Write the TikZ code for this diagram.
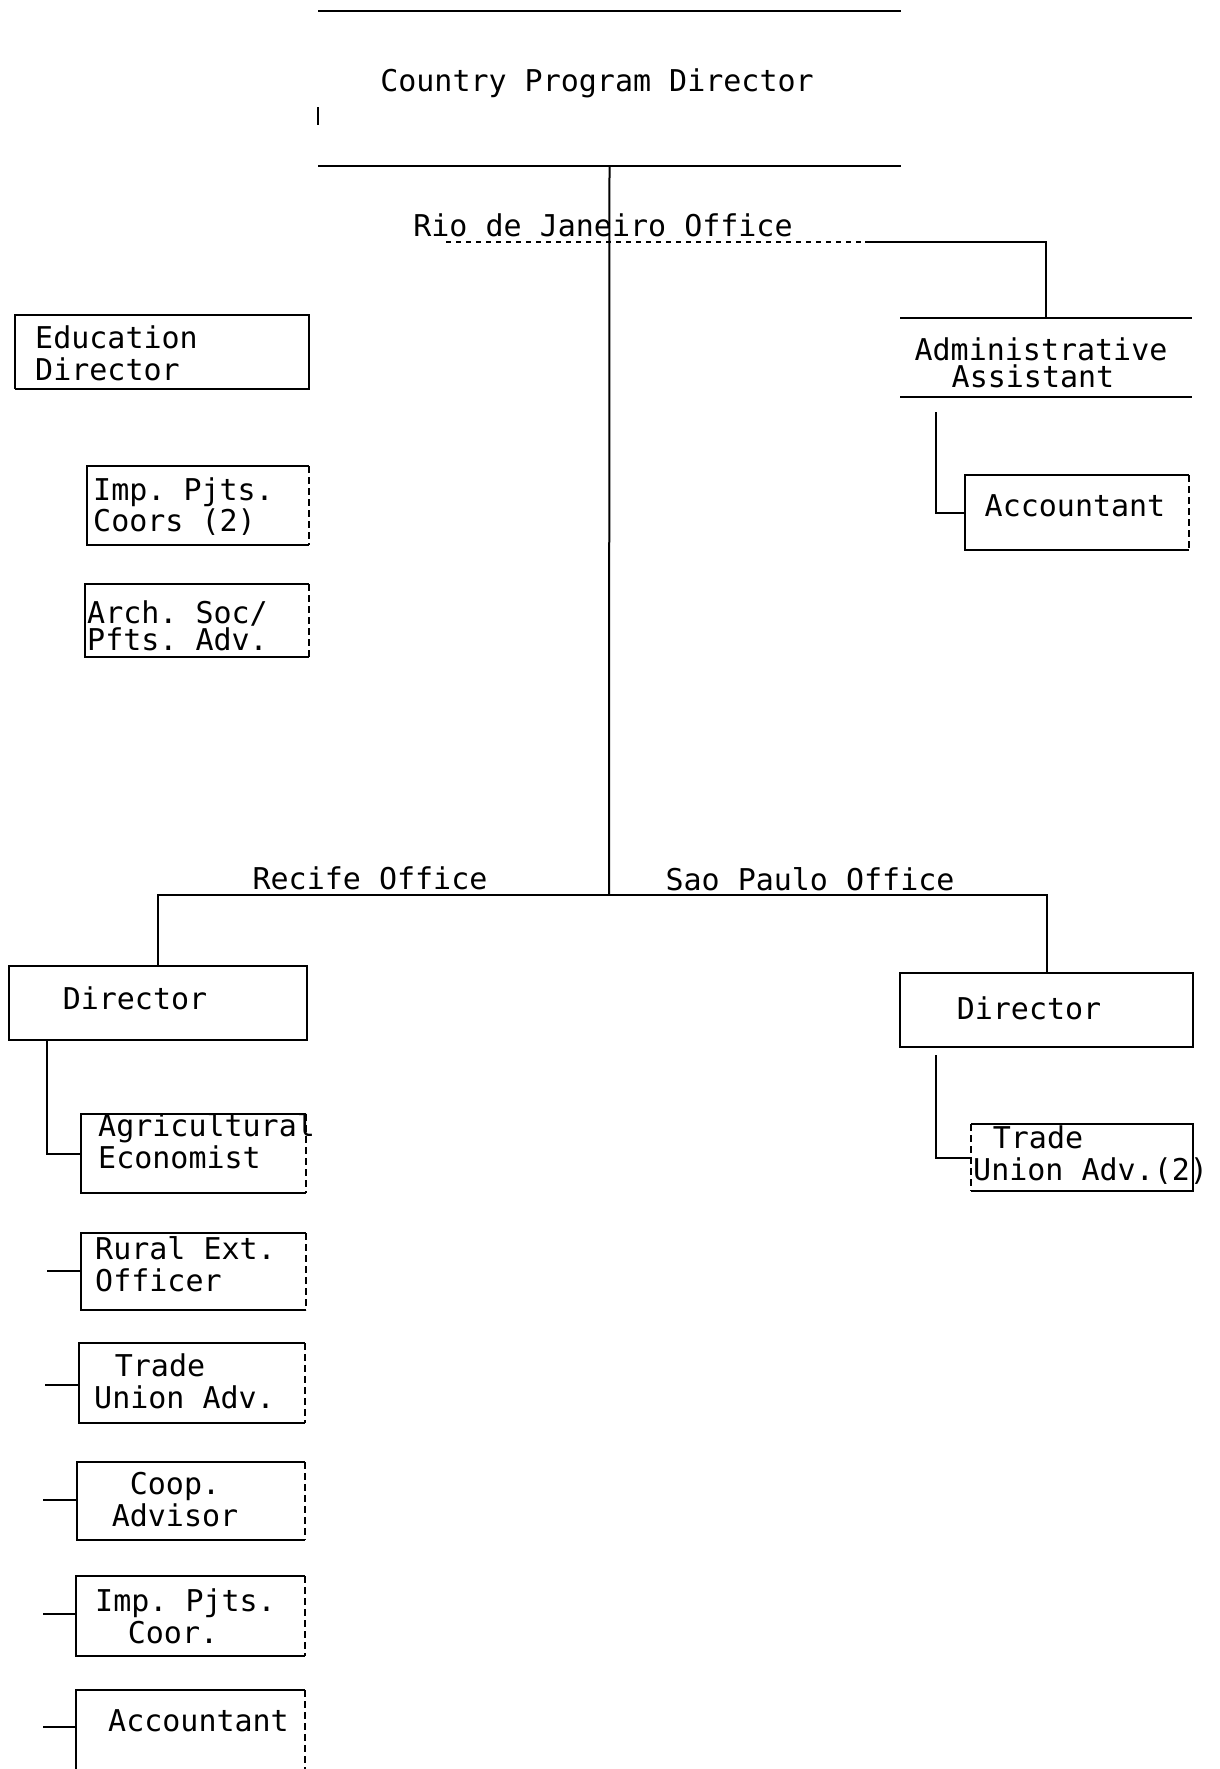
\documentclass[tikz,border=0pt]{standalone}
\usepackage{fontspec}
\setmonofont{DejaVu Sans Mono}
\usetikzlibrary{calc}
\tikzset{
  edge/.style={line width=2pt, black},
  dsh/.style={edge, dash pattern=on 7pt off 4pt},
  faint/.style={line width=1.2pt, black, dash pattern=on 5pt off 5pt},
  conn/.style={line width=2pt, black},
  holder/.style={draw=none, inner sep=0pt, outer sep=0pt, anchor=north west},
  txt/.style={inner sep=0pt, yshift=-9pt, font=\ttfamily\fontsize{30}{32}\selectfont, text=black}
}
\newcommand{\orgbox}[1]{%
  \draw[edge] (#1.north east) -- (#1.north west) -- (#1.south west) -- (#1.south east);
  \draw[dsh] (#1.north east) -- (#1.south east);}
\begin{document}
\begin{tikzpicture}[x=1pt,y=-1pt]
\fill[white] (0,0) rectangle (1219,1769);
\useasboundingbox (0,0) rectangle (1219,1769);

% ---------- box holders ----------
\node[holder, minimum width=583pt, minimum height=155pt] (cpd) at (318,11) {};
\node[holder, minimum width=292pt, minimum height=79pt] (admin) at (900,318) {};
\node[holder, minimum width=224pt, minimum height=75pt] (acct1) at (965,475) {};
\node[holder, minimum width=294pt, minimum height=74pt] (edu) at (15,315) {};
\node[holder, minimum width=222pt, minimum height=79pt] (imp1) at (87,466) {};
\node[holder, minimum width=224pt, minimum height=73pt] (arch) at (85,584) {};
\node[holder, minimum width=298pt, minimum height=74pt] (recdir) at (9,966) {};
\node[holder, minimum width=293pt, minimum height=74pt] (spdir) at (900,973) {};
\node[holder, minimum width=222pt, minimum height=67pt] (tu2) at (971,1124) {};
\node[holder, minimum width=225pt, minimum height=79pt] (agri) at (81,1114) {};
\node[holder, minimum width=225pt, minimum height=77pt] (rural) at (81,1233) {};
\node[holder, minimum width=226pt, minimum height=80pt] (tu1) at (79,1343) {};
\node[holder, minimum width=228pt, minimum height=78pt] (coop) at (77,1462) {};
\node[holder, minimum width=229pt, minimum height=80pt] (imp2) at (76,1576) {};
\node[holder, minimum width=229pt, minimum height=100pt] (acct2) at (76,1690) {};

% ---------- box outlines ----------
\draw[edge] (cpd.north west) -- (cpd.north east);
\draw[edge] (cpd.south west) -- (cpd.south east);
\draw[edge] ($(cpd.north west)+(0,96)$) -- ($(cpd.north west)+(0,114)$);
\draw[edge] (admin.north west) -- (admin.north east);
\draw[edge] (admin.south west) -- (admin.south east);
\orgbox{acct1}
\draw[edge] (edu.south west) -- (edu.north west) -- (edu.north east) -- (edu.south east) -- (edu.south west);
\orgbox{imp1}
\orgbox{arch}
\draw[edge] (recdir.north west) rectangle (recdir.south east);
\draw[edge] (spdir.north west) rectangle (spdir.south east);
\draw[edge] (tu2.south west) -- (tu2.south east) -- (tu2.north east) -- (tu2.north west);
\draw[dsh] (tu2.north west) -- (tu2.south west);
\orgbox{agri}
\orgbox{rural}
\orgbox{tu1}
\orgbox{coop}
\orgbox{imp2}
\orgbox{acct2}

% ---------- texts ----------
\node[txt, anchor=mid] (t-cpd) at (597,80) {Country Program Director};
\node[txt, anchor=mid] (t-rio) at (603,225) {Rio de Janeiro Office};
\node[txt, anchor=mid] (t-adm1) at (1041,349) {Administrative};
\node[txt, anchor=mid] (t-adm2) at (1033,376) {Assistant};
\node[txt, anchor=mid] (t-acc1) at (1075,505) {Accountant};
\node[txt, anchor=mid west] (t-edu1) at (35,337) {Education};
\node[txt, anchor=mid west] (t-edu2) at (35,369) {Director};
\node[txt, anchor=mid west] (t-imp1a) at (93,489) {Imp. Pjts.};
\node[txt, anchor=mid west] (t-imp1b) at (93,520) {Coors (2)};
\node[txt, anchor=base west, yshift=9pt, align=left,
      font=\ttfamily\fontsize{30}{21}\selectfont] (t-arch) at (87,650) {Arch. Soc/\\Pfts. Adv.};
\node[txt, anchor=mid] (t-rec) at (370,878) {Recife Office};
\node[txt, anchor=mid] (t-sp) at (810,879) {Sao Paulo Office};
\node[txt, anchor=mid] (t-rdir) at (135,998) {Director};
\node[txt, anchor=mid] (t-sdir) at (1029,1008) {Director};
\node[txt, anchor=mid] (t-tu2a) at (1038,1137) {Trade};
\node[txt, anchor=mid west] (t-tu2b) at (973,1169) {Union Adv.(2)};
\node[txt, anchor=mid west] (t-agri1) at (98,1125) {Agricultural};
\node[txt, anchor=mid west] (t-agri2) at (98,1157) {Economist};
\node[txt, anchor=mid west] (t-rur1) at (95,1248) {Rural Ext.};
\node[txt, anchor=mid west] (t-rur2) at (95,1280) {Officer};
\node[txt, anchor=mid] (t-tu1a) at (160,1365) {Trade};
\node[txt, anchor=mid west] (t-tu1b) at (94,1397) {Union Adv.};
\node[txt, anchor=mid] (t-coop1) at (175,1483) {Coop.};
\node[txt, anchor=mid] (t-coop2) at (175,1515) {Advisor};
\node[txt, anchor=mid west] (t-imp2a) at (95,1600) {Imp. Pjts.};
\node[txt, anchor=mid] (t-imp2b) at (173,1632) {Coor.};
\node[txt, anchor=mid west] (t-acc2) at (108,1720) {Accountant};

% ---------- connectors ----------
\coordinate (jn) at (609,895);
\coordinate (rj) at (609,242);
\draw[conn] (cpd.south) -- (jn);
\draw[faint] (446,242) -- (865,242);
\draw[conn] (865,242) -| (admin.north);
\coordinate (adm-drop) at (936,412);
\draw[conn] (adm-drop) |- (acct1.west);
\draw[conn] (recdir.north) |- (jn) -| (spdir.north);
\coordinate (sp-drop) at (936,1055);
\draw[conn] (sp-drop) |- (tu2.west);
\coordinate (rec-drop) at (47,1040);
\draw[conn] (rec-drop) |- (agri.west);
\coordinate (b-rur) at (47,1271);
\coordinate (b-tu) at (45,1385);
\coordinate (b-coop) at (43,1500);
\coordinate (b-imp) at (43,1614);
\coordinate (b-acc) at (43,1727);
\draw[conn] (b-rur) -- (b-rur -| rural.west);
\draw[conn] (b-tu) -- (b-tu -| tu1.west);
\draw[conn] (b-coop) -- (b-coop -| coop.west);
\draw[conn] (b-imp) -- (b-imp -| imp2.west);
\draw[conn] (b-acc) -- (b-acc -| acct2.west);
\end{tikzpicture}
\end{document}
